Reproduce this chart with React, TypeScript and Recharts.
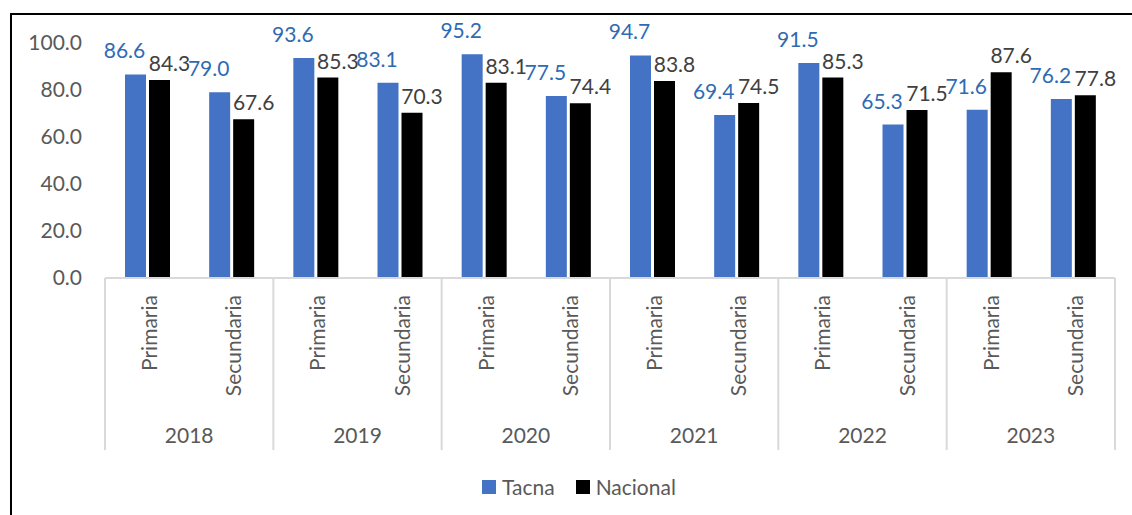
import React from 'react';
import { BarChart, Bar, XAxis, YAxis, Legend, LabelList } from 'recharts';

const years = ['2018', '2019', '2020', '2021', '2022', '2023'];
const levels = ['Primaria', 'Secundaria'];
const tacna = [86.6, 79.0, 93.6, 83.1, 95.2, 77.5, 94.7, 69.4, 91.5, 65.3, 71.6, 76.2];
const nacional = [84.3, 67.6, 85.3, 70.3, 83.1, 74.4, 83.8, 74.5, 85.3, 71.5, 87.6, 77.8];
const yTicks = [0, 20, 40, 60, 80, 100];
const seriesNames = ['Tacna', 'Nacional'];

const data = years.flatMap((yr, yi) =>
  levels.map((lv, li) => {
    const i = yi * levels.length + li;
    return { key: `${yr}-${lv}`, year: yr, level: lv, Tacna: tacna[i], Nacional: nacional[i] };
  })
);

const W = 1132;
const H = 515;
const MARGIN = { top: 43, right: 17, left: 0, bottom: 12 };
const Y_AXIS_W = 105;
const X_AXIS_H = 175;
const LEGEND_H = 50;
const PLOT_W = W - MARGIN.left - MARGIN.right - Y_AXIS_W;
const BAND = PLOT_W / data.length;

const FONT = 'Lato, "Open Sans", sans-serif';
const TEXT_GREY = '#595959';
const SEP = '#d9d9d9';
const COLORS = { Tacna: '#4472c4', Nacional: '#000000' };
const LABEL_COLORS = { Tacna: '#2e6bb3', Nacional: '#404040' };

const CategoryTick = (props: any) => {
  const { x, y, payload } = props;
  const idx = data.findIndex((d) => d.key === payload.value);
  if (idx < 0) return null;
  const row = data[idx];
  const li = idx % levels.length;
  const labelTop = y + 17;
  return (
    <g>
      <text
        x={x}
        y={labelTop}
        dy={10}
        transform={`rotate(-90, ${x}, ${labelTop})`}
        textAnchor="end"
        fill={TEXT_GREY}
        fontSize={21}
        fontFamily={FONT}
      >
        {row.level}
      </text>
      {li === 0 && (
        <line x1={x - BAND / 2} x2={x - BAND / 2} y1={y} y2={y + 172} stroke={SEP} strokeWidth={2} />
      )}
      {idx === data.length - 1 && (
        <line x1={x + BAND / 2} x2={x + BAND / 2} y1={y} y2={y + 172} stroke={SEP} strokeWidth={2} />
      )}
      {li === levels.length - 1 && (
        <text
          x={x - (BAND * (levels.length - 1)) / 2}
          y={y + 165}
          textAnchor="middle"
          fill={TEXT_GREY}
          fontSize={21}
          fontFamily={FONT}
        >
          {row.year}
        </text>
      )}
    </g>
  );
};

const makeLabel = (dx: number, dy: number, color: string) => (props: any) => {
  const { x, y, width, value } = props;
  if (value == null) return null;
  return (
    <text
      x={x + width / 2 + dx}
      y={y + dy}
      textAnchor="middle"
      fill={color}
      fontSize={21}
      fontFamily={FONT}
    >
      {Number(value).toFixed(1)}
    </text>
  );
};

const renderLegend = () => (
  <div
    style={{
      height: LEGEND_H,
      boxSizing: 'border-box',
      paddingTop: 18,
      paddingLeft: 482,
      display: 'flex',
      alignItems: 'center',
      fontFamily: FONT,
      fontSize: 21,
      color: TEXT_GREY,
    }}
  >
    {seriesNames.map((name, i) => (
      <div key={name} style={{ display: 'flex', alignItems: 'center', marginRight: i === 0 ? 21 : 0 }}>
        <span
          style={{
            display: 'inline-block',
            width: 14,
            height: 14,
            background: (COLORS as any)[name],
            marginRight: 6,
          }}
        />
        <span style={{ lineHeight: '24px' }}>{name}</span>
      </div>
    ))}
  </div>
);

export default function App() {
  return (
    <div style={{ position: 'absolute', left: 0, top: 0, width: W, height: H, overflow: 'hidden', background: '#fff' }}>
      <div
        style={{
          position: 'absolute',
          left: 10,
          top: 13,
          width: W,
          height: H,
          borderTop: '2px solid #000',
          borderLeft: '2px solid #000',
        }}
      />
      <div style={{ position: 'absolute', left: 0, top: 0 }}>
        <BarChart width={W} height={H} data={data} margin={MARGIN} barSize={21} barGap={3}>
          <XAxis
            dataKey="key"
            height={X_AXIS_H}
            interval={0}
            tickLine={false}
            tickSize={0}
            tickMargin={0}
            axisLine={{ stroke: SEP, strokeWidth: 2 }}
            tick={<CategoryTick />}
          />
          <YAxis
            width={Y_AXIS_W}
            domain={[0, 100]}
            ticks={yTicks}
            interval={0}
            axisLine={false}
            tickLine={false}
            tickSize={0}
            tickMargin={23}
            tickFormatter={(v: number) => v.toFixed(1)}
            tick={{ fill: TEXT_GREY, fontSize: 21, fontFamily: FONT }}
          />
          <Legend verticalAlign="bottom" height={LEGEND_H} content={renderLegend} />
          <Bar dataKey="Tacna" fill={COLORS.Tacna} isAnimationActive={false}>
            <LabelList dataKey="Tacna" content={makeLabel(-11, -16, LABEL_COLORS.Tacna)} />
          </Bar>
          <Bar dataKey="Nacional" fill={COLORS.Nacional} isAnimationActive={false}>
            <LabelList dataKey="Nacional" content={makeLabel(10, -9, LABEL_COLORS.Nacional)} />
          </Bar>
        </BarChart>
      </div>
    </div>
  );
}
